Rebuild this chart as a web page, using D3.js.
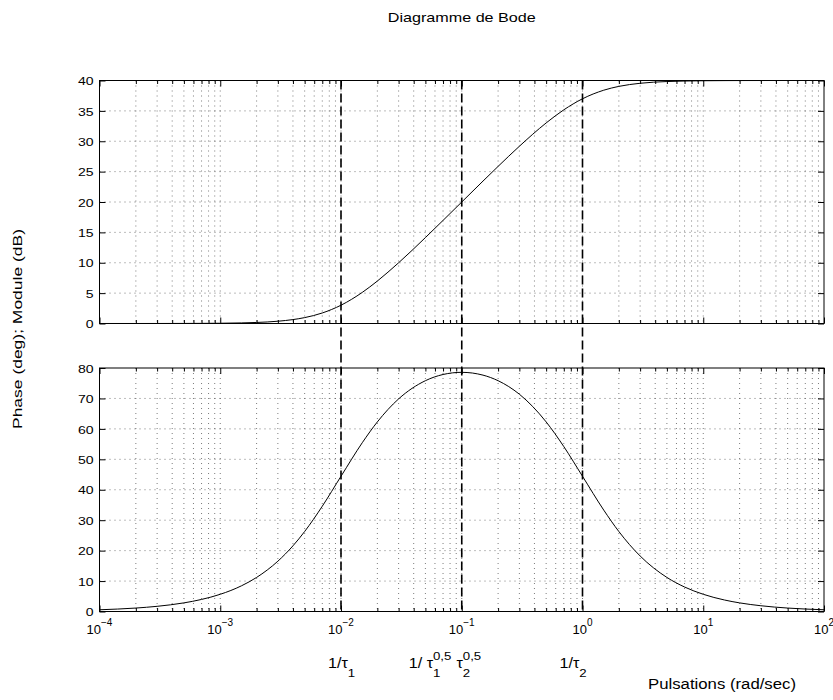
<!DOCTYPE html>
<html><head><meta charset="utf-8">
<script src="https://cdn.jsdelivr.net/npm/d3@7"></script>
<style>
body{margin:0;background:#fff;}
svg text{font-family:"Liberation Sans",Arial,Helvetica,sans-serif;fill:#000;}
.grid{stroke:#444;stroke-width:0.7;stroke-dasharray:1,4;}
</style>
</head><body><svg id="c" width="833" height="700"></svg>
<script>
// ---- data ----
const freqs = [1e-4,2e-4,3e-4,5e-4,7e-4,1e-3,1.5e-3,2e-3,3e-3,4e-3,5e-3,7e-3,1e-2,1.5e-2,2e-2,3e-2,5e-2,7e-2,1e-1,1.5e-1,2e-1,3e-1,5e-1,7e-1,1,1.5,2,3,5,7,10,15,20,30,50,70,100];
const moduleDb = [0.0004,0.0017,0.0039,0.0108,0.0212,0.043,0.097,0.170,0.374,0.645,0.969,1.732,3.010,5.118,6.988,9.996,14.139,16.969,20.000,23.444,25.861,29.173,33.012,35.171,36.990,38.403,39.031,39.543,39.829,39.912,39.957,39.981,39.990,39.995,39.998,39.999,40.000];
const phaseDeg = [0.567,1.134,1.70,2.833,3.964,5.654,8.445,11.195,16.527,21.572,26.279,34.591,44.427,55.451,62.289,69.847,75.828,77.866,78.578,77.655,75.828,71.392,62.289,54.190,44.427,33.308,26.279,18.244,11.195,8.048,5.654,3.776,2.833,1.890,1.134,0.810,0.567];
const cornerFreqs = [0.01, 0.1, 1];
const xTickExps = [-4,-3,-2,-1,0,1,2];
const yTopTicks = [0,5,10,15,20,25,30,35,40];
const yBotTicks = [0,10,20,30,40,50,60,70,80];
const titleText = "Diagramme de Bode";
const xLabelText = "Pulsations (rad/sec)";
const yLabelText = "Phase (deg); Module (dB)";

const STRETCH = 1.22; // reference glyphs are horizontally wider than the font
function stretch(sel, f) {
  sel.each(function () {
    const w = this.getComputedTextLength();
    d3.select(this).attr("textLength", w * f).attr("lengthAdjust", "spacingAndGlyphs");
  });
  return sel;
}

// ---- scales ----
const svg = d3.select("#c");
const x = d3.scaleLog().domain([1e-4, 1e2]).range([99.5, 824]);
const yTop = d3.scaleLinear().domain([0, 40]).range([323.5, 80.5]);
const yBot = d3.scaleLinear().domain([0, 80]).range([611.5, 368]);

const majors = xTickExps.map(e => Math.pow(10, e));
const minors = [];
xTickExps.slice(0, -1).forEach(e => { for (let m = 2; m <= 9; m++) minors.push(m * Math.pow(10, e)); });

function panel(y, yTicks, values) {
  const g = svg.append("g");
  const [yb, yt] = y.range();
  const [xl, xr] = x.range();
  g.selectAll("line.vg").data(majors.concat(minors).filter(t => t > 1e-4 && t < 1e2)).join("line")
    .attr("class", "grid").attr("x1", d => x(d)).attr("x2", d => x(d)).attr("y1", yt).attr("y2", yb);
  g.selectAll("line.hg").data(yTicks.slice(1, -1)).join("line")
    .attr("class", "grid").attr("x1", xl).attr("x2", xr).attr("y1", d => y(d)).attr("y2", d => y(d));
  const ax = (gen, tx, ty) => {
    const a = g.append("g").attr("transform", `translate(${tx},${ty})`).call(gen);
    a.select(".domain").remove();
    a.selectAll("line").attr("stroke", "#000");
    return a;
  };
  ax(d3.axisBottom(x).tickValues(majors).tickSize(-6).tickFormat(""), 0, yb);
  ax(d3.axisBottom(x).tickValues(minors).tickSize(-3.5).tickFormat(""), 0, yb);
  ax(d3.axisTop(x).tickValues(majors).tickSize(-6).tickFormat(""), 0, yt);
  ax(d3.axisTop(x).tickValues(minors).tickSize(-3.5).tickFormat(""), 0, yt);
  const left = ax(d3.axisLeft(y).tickValues(yTicks).tickSize(-6).tickPadding(6).tickFormat(d3.format("d")), xl, 0);
  left.attr("font-family", null);
  const lt = left.selectAll("text").attr("font-size", 11.5).attr("dy", "0.36em");
  stretch(lt, STRETCH);
  ax(d3.axisRight(y).tickValues(yTicks).tickSize(-6).tickFormat(""), xr, 0);
  g.append("rect").attr("x", xl).attr("y", yt).attr("width", xr - xl).attr("height", yb - yt)
    .attr("fill", "none").attr("stroke", "#000").attr("stroke-width", 1);
  const line = d3.line().x(d => x(d[0])).y(d => y(d[1])).curve(d3.curveMonotoneX);
  g.append("path").datum(freqs.map((f, i) => [f, values[i]])).attr("d", line)
    .attr("fill", "none").attr("stroke", "#000").attr("stroke-width", 1);
}
panel(yTop, yTopTicks, moduleDb);
panel(yBot, yBotTicks, phaseDeg);

// vertical dashed lines at the corner frequencies
svg.selectAll("line.corner").data(cornerFreqs).join("line")
  .attr("x1", d => x(d)).attr("x2", d => x(d))
  .attr("y1", yTop.range()[1]).attr("y2", yBot.range()[0])
  .attr("stroke", "#000").attr("stroke-width", 1.6).attr("stroke-dasharray", "9,4");

// x tick labels (bottom panel)
xTickExps.forEach(e => {
  const t = svg.append("text").attr("x", x(Math.pow(10, e))).attr("y", 634)
    .attr("text-anchor", "middle").attr("font-size", 13);
  t.append("tspan").text("10");
  t.append("tspan").attr("dy", -8).attr("font-size", 10).text(e < 0 ? "\u2212" + (-e) : String(e));
});

// annotations below the axis
function piece(txt, px, py, size) {
  const t = svg.append("text").attr("x", px).attr("y", py).attr("font-size", size).text(txt);
  const w = t.node().getComputedTextLength() * 1.15;
  t.attr("textLength", w).attr("lengthAdjust", "spacingAndGlyphs");
  return px + w;
}
const base = 668, subY = 677, supY = 660;
let cx = piece("1/\u03C4", x(cornerFreqs[0]) - 13, base, 14);
piece("1", cx, subY, 11.5);
cx = piece("1/ \u03C4", x(cornerFreqs[1]) - 53, base, 14);
let e1 = piece("1", cx, subY, 11.5), e2 = piece("0,5", cx, supY, 11.5);
cx = Math.max(e1, e2) + 5;
cx = piece("\u03C4", cx, base, 14);
piece("2", cx, subY, 11.5); piece("0,5", cx, supY, 11.5);
cx = piece("1/\u03C4", x(cornerFreqs[2]) - 23, base, 14);
piece("2", cx, subY, 11.5);

// title and axis labels
svg.append("text").attr("x", (x.range()[0] + x.range()[1]) / 2).attr("y", 22)
  .attr("text-anchor", "middle").attr("font-size", 13)
  .attr("textLength", 148).attr("lengthAdjust", "spacingAndGlyphs").text(titleText);
svg.append("text").attr("x", 648).attr("y", 689).attr("font-size", 14)
  .attr("textLength", 148).attr("lengthAdjust", "spacingAndGlyphs").text(xLabelText);
svg.append("text").attr("transform", "translate(22,329) rotate(-90)")
  .attr("text-anchor", "middle").attr("font-size", 13)
  .attr("textLength", 200).attr("lengthAdjust", "spacingAndGlyphs").text(yLabelText);
</script>
</body></html>
